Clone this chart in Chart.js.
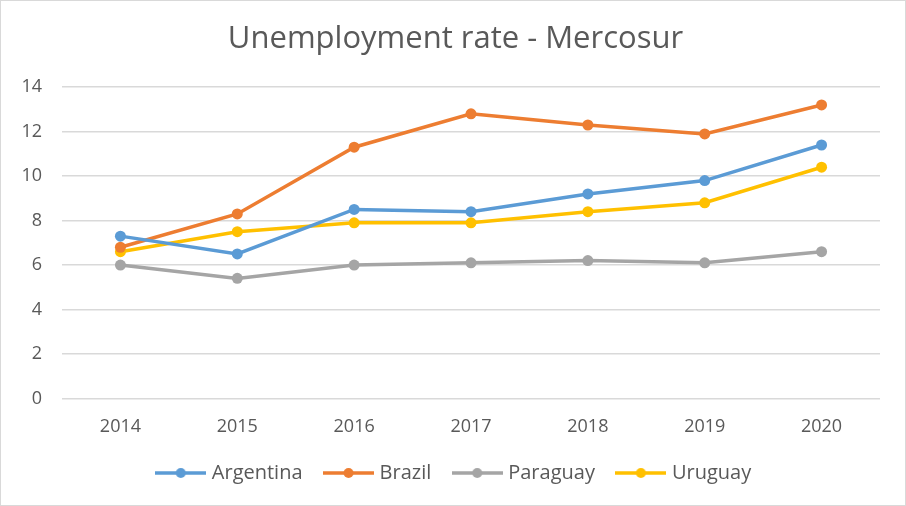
<!DOCTYPE html>
<html>
<head>
<meta charset="utf-8">
<script src="https://cdn.jsdelivr.net/npm/chart.js@4.4.0/dist/chart.umd.min.js"></script>
<style>
    html, body { margin: 0; padding: 0; background: #fff; }
    #wrap { width: 904px; height: 504px; border: 1px solid #d9d9d9; }
</style>
</head>
<body>
<div id="wrap"><canvas id="chart" width="904" height="504"></canvas></div>
<script>
// Data
const years = ['2014', '2015', '2016', '2017', '2018', '2019', '2020'];
const argentina = [7.3, 6.5, 8.5, 8.4, 9.2, 9.8, 11.4];
const brazil = [6.8, 8.3, 11.3, 12.8, 12.3, 11.9, 13.2];
const paraguay = [6.0, 5.4, 6.0, 6.1, 6.2, 6.1, 6.6];
const uruguay = [6.6, 7.5, 7.9, 7.9, 8.4, 8.8, 10.4];
const yTicks = [0, 2, 4, 6, 8, 10, 12, 14];

const textColor = '#595959';
const fontFamily = '"Open Sans", "Liberation Sans", sans-serif';

// Little line-with-dot icon for the legend, like Excel draws it
function legendIcon(color) {
    const c = document.createElement('canvas');
    c.width = 51;
    c.height = 12;
    const g = c.getContext('2d');
    g.strokeStyle = color;
    g.lineWidth = 3.5;
    g.beginPath();
    g.moveTo(0, 6);
    g.lineTo(51, 6);
    g.stroke();
    g.fillStyle = color;
    g.beginPath();
    g.arc(25.5, 6, 5, 0, Math.PI * 2);
    g.fill();
    return c;
}

function makeSeries(label, data, color) {
    return {
        label: label,
        data: data,
        borderColor: color,
        backgroundColor: color,
        borderWidth: 3.5,
        pointRadius: 5.5,
        pointHoverRadius: 5.5,
        pointBorderWidth: 0,
        tension: 0,
        icon: legendIcon(color)
    };
}

const ctx = document.getElementById('chart').getContext('2d');
const chart = new Chart(ctx, {
    type: 'line',
    data: {
        labels: years,
        datasets: [
            makeSeries('Argentina', argentina, '#5b9bd5'),
            makeSeries('Brazil', brazil, '#ed7d31'),
            makeSeries('Paraguay', paraguay, '#a5a5a5'),
            makeSeries('Uruguay', uruguay, '#ffc000')
        ]
    },
    options: {
        responsive: false,
        animation: false,
        layout: { padding: { left: 5, right: 0, top: 0, bottom: 12 } },
        plugins: {
            title: {
                display: true,
                text: 'Unemployment rate - Mercosur',
                color: textColor,
                font: { family: fontFamily, size: 31, weight: 'normal' },
                padding: { top: 20, bottom: 29 }
            },
            legend: {
                position: 'bottom',
                labels: {
                    color: textColor,
                    font: { family: fontFamily, size: 20 },
                    usePointStyle: true,
                    pointStyleWidth: 42,
                    padding: 25,
                    boxHeight: 12,
                    generateLabels: function (chart) {
                        return chart.data.datasets.map((ds, i) => ({
                            text: ds.label,
                            fontColor: textColor,
                            pointStyle: ds.icon,
                            datasetIndex: i,
                            hidden: false,
                            lineWidth: 0
                        }));
                    }
                }
            },
            tooltip: { enabled: false }
        },
        scales: {
            x: {
                offset: true,
                grid: { display: false },
                border: { display: false },
                ticks: {
                    color: textColor,
                    font: { family: fontFamily, size: 18 },
                    padding: 10
                },
                // let the labels sit a bit into the legend's space
                afterFit: function (axis) {
                    axis.height -= 10;
                }
            },
            y: {
                min: 0,
                max: 14,
                grid: { color: '#d9d9d9', lineWidth: 1.5, drawTicks: false },
                border: { display: false },
                afterBuildTicks: function (axis) {
                    axis.ticks = yTicks.map(v => ({ value: v }));
                },
                ticks: {
                    color: textColor,
                    font: { family: fontFamily, size: 18 },
                    padding: 20
                },
                afterFit: function (axis) {
                    axis.width = 56;
                }
            },
            // empty spacer on the right so the plot stops where the original does
            spacer: {
                type: 'linear',
                position: 'right',
                grid: { display: false },
                border: { display: false },
                ticks: { display: false },
                afterFit: function (axis) {
                    axis.width = 25;
                }
            }
        }
    }
});
</script>
</body>
</html>
